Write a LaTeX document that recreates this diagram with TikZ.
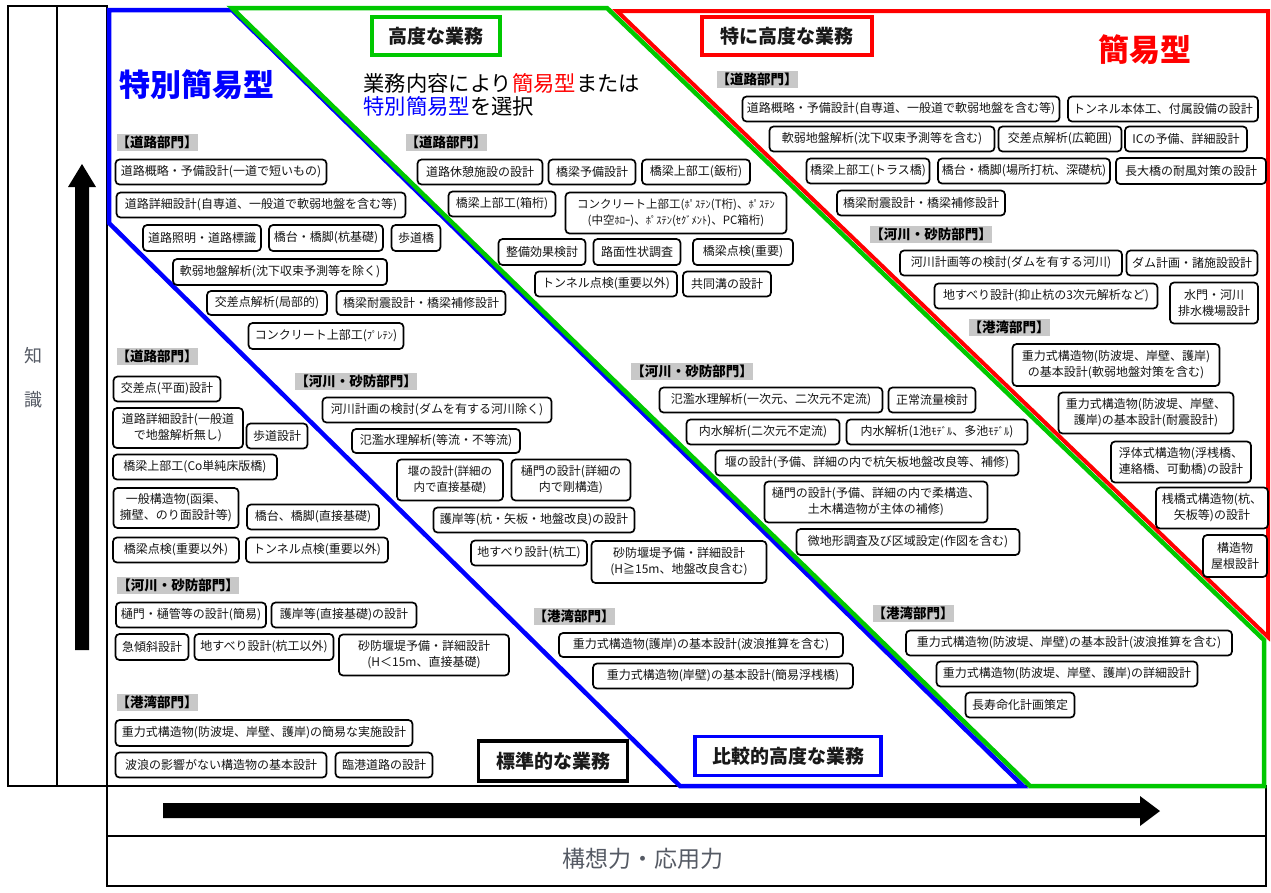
\documentclass[tikz,border=0pt]{standalone}
\usepackage{fontspec}
\setmainfont{Noto Sans CJK JP}
\definecolor{cblue}{RGB}{0,0,255}
\definecolor{cgreen}{RGB}{0,200,0}
\definecolor{cred}{RGB}{255,0,0}
\definecolor{chdr}{RGB}{200,200,200}
\definecolor{cgraytxt}{RGB}{85,90,100}
\newcommand\hkana[1]{{\fontsize{10.5}{12}\selectfont #1}}
\newcommand\tbx[7][]{\node[tbox,minimum width=#5pt,minimum height=#6pt,#1] (#2) at (#3,#4) {#7};}
\begin{document}
\begin{tikzpicture}[x=1pt,y=-1pt,
 tbox/.style={draw=black,line width=1.7pt,rounded corners=4pt,fill=white,inner sep=0pt,align=center,text=black!92,font=\fontsize{12}{16}\selectfont},
 hdr/.style={fill=chdr,inner sep=0pt,minimum height=17pt,font=\fontsize{13.5}{15}\selectfont\bfseries},
 ttl/.style={line width=3.5pt,inner sep=0pt,fill=white,text=black!90,font=\fontsize{19}{22}\selectfont\bfseries},
 frame/.style={line width=2.5pt,draw=black},
 zone/.style={line width=4.5pt,line join=miter},
 arr/.style={fill=black,draw=none}]
\useasboundingbox (0,0) rectangle (1271,892);
% frame
\draw[frame] (8,6) rectangle (107,786);
\draw[frame] (57,6) -- (57,786);
\draw[frame] (107,786) rectangle (1266,886);
\draw[frame] (107,836) -- (1266,836);
% zones
\draw[zone,cblue] (109,10) -- (232,10) -- (1023,786) -- (680,786) -- (109,223) -- cycle;
\draw[zone,cgreen] (232,8) -- (607,8) -- (1264,640) -- (1264,786) -- (1030,786) -- cycle;
\draw[zone,cred,line width=4pt] (617,11) -- (1268,11) -- (1268,637) -- cycle;
% arrows
\fill[arr] (75,650) -- (75,187) -- (68,187) -- (82,164) -- (96,187) -- (89,187) -- (89,650) -- cycle;
\fill[arr] (163,803) -- (1140,803) -- (1140,796) -- (1160,811) -- (1140,826) -- (1140,818) -- (163,818) -- cycle;
% axis labels
\node[text=cgraytxt,font=\fontsize{18}{44}\selectfont,align=center] (kn) at (33,378) {知\\識};
\node[text=cgraytxt,font=\fontsize{23}{26}\selectfont] (ko) at (643,859) {構想力・応用力};
% titles
\node[ttl,draw=cgreen,minimum width=128pt,minimum height=38pt] (tk) at (436,36) {高度な業務};
\node[ttl,draw=cred,minimum width=170pt,minimum height=38pt] (tt) at (787,36) {特に高度な業務};
\node[ttl,draw=black,minimum width=149pt,minimum height=40pt] (th) at (553,761) {標準的な業務};
\node[ttl,draw=cblue,minimum width=186pt,minimum height=39pt] (tc) at (788,756) {比較的高度な業務};
\node[text=cblue,font=\fontsize{31}{34}\selectfont\bfseries] (lt) at (197,85) {特別簡易型};
\node[text=cred,font=\fontsize{31}{34}\selectfont\bfseries] (lk) at (1145,50) {簡易型};
\node[anchor=west,align=left,font=\fontsize{21.3}{23.5}\selectfont] (ls) at (360,95) {業務内容により\textcolor{cred}{簡易型}または\\\textcolor{cblue}{特別簡易型}を選択};
% headers
\node[hdr] (h1) at (157,142) {【道路部門】};
\node[hdr] (h2) at (446,142) {【道路部門】};
\node[hdr] (h3) at (757,79) {【道路部門】};
\node[hdr] (h4) at (931,234) {【河川・砂防部門】};
\node[hdr] (h5) at (1009,327) {【港湾部門】};
\node[hdr] (h6) at (157,356) {【道路部門】};
\node[hdr] (h7) at (356,381) {【河川・砂防部門】};
\node[hdr] (h8) at (692,371) {【河川・砂防部門】};
\node[hdr] (h9) at (178,585) {【河川・砂防部門】};
\node[hdr] (h10) at (574,616) {【港湾部門】};
\node[hdr] (h11) at (913,613) {【港湾部門】};
\node[hdr] (h12) at (157,702) {【港湾部門】};
% 特別簡易型 top-left
\tbx{a1}{221}{172}{211}{25}{道路概略・予備設計(一道で短いもの)}
\tbx{a2}{261}{205}{289}{25}{道路詳細設計(自専道、一般道で軟弱地盤を含む等)}
\tbx{a3}{202}{238}{118}{26}{道路照明・道路標識}
\tbx{a4}{326}{238}{114}{26}{橋台・橋脚(杭基礎)}
\tbx{a5}{416}{238}{49}{26}{歩道橋}
\tbx{a6}{280}{272}{214}{26}{軟弱地盤解析(沈下収束予測等を除く)}
\tbx{a7}{267}{303}{120}{24}{交差点解析(局部的)}
\tbx{a8}{421}{303}{169}{24}{橋梁耐震設計・橋梁補修設計}
\tbx{a9}{326}{336}{155}{26}{コンクリート上部工(\hkana{ﾌﾟﾚﾃﾝ})}
% 標準 道路
\tbx{b1}{167}{389}{107}{25}{交差点(平面)設計}
\tbx{b2}{178}{428}{130}{40}{道路詳細設計(一般道\\で地盤解析無し)}
\tbx{b3}{277}{436}{61}{25}{歩道設計}
\tbx{b4}{195}{467}{164}{25}{橋梁上部工(Co単純床版橋)}
\tbx{b5}{176}{508}{125}{40}{一般構造物(函渠、\\擁壁、のり面設計等)}
\tbx{b6}{313}{517}{132}{25}{橋台、橋脚(直接基礎)}
\tbx{b7}{176}{550}{126}{25}{橋梁点検(重要以外)}
\tbx{b8}{317}{550}{142}{25}{トンネル点検(重要以外)}
% 標準 河川
\tbx{b9}{191}{615}{150}{25}{樋門・樋管等の設計(簡易)}
\tbx{b10}{344}{615}{145}{25}{護岸等(直接基礎)の設計}
\tbx{b11}{152}{647}{73}{26}{急傾斜設計}
\tbx{b12}{264}{647}{139}{26}{地すべり設計(杭工以外)}
\tbx{b13}{424}{655}{170}{41}{砂防堰堤予備・詳細設計\\(H＜15m、直接基礎)}
% 標準 港湾
\tbx{b14}{264}{733}{297}{26}{重力式構造物(防波堤、岸壁、護岸)の簡易な実施設計}
\tbx{b15}{221}{765}{211}{25}{波浪の影響がない構造物の基本設計}
\tbx{b16}{384}{765}{97}{25}{臨港道路の設計}
% 比較 河川
\tbx{c1}{437}{410}{229}{25}{河川計画の検討(ダムを有する河川除く)}
\tbx{c2}{436}{441}{168}{24}{氾濫水理解析(等流・不等流)}
\tbx[font=\fontsize{11.5}{16}\selectfont]{c3}{450}{480}{106}{41}{堰の設計(詳細の\\内で直接基礎)}
\tbx{c4}{571}{480}{119}{41}{樋門の設計(詳細の\\内で剛構造)}
\tbx{c5}{534}{520}{201}{25}{護岸等(杭・矢板・地盤改良)の設計}
\tbx{c6}{529}{553}{116}{25}{地すべり設計(杭工)}
\tbx{c7}{679}{562}{175}{42}{砂防堰堤予備・詳細設計\\(H≧15m、地盤改良含む)}
% 比較 港湾
\tbx{c8}{701}{645}{284}{24}{重力式構造物(護岸)の基本設計(波浪推算を含む)}
\tbx{c9}{723}{676}{260}{25}{重力式構造物(岸壁)の基本設計(簡易浮桟橋)}
% 高度 道路
\tbx{d1}{480}{172}{125}{25}{道路休憩施設の設計}
\tbx{d2}{592}{172}{87}{25}{橋梁予備設計}
\tbx{d3}{696}{172}{108}{25}{橋梁上部工(鈑桁)}
\tbx{d4}{502}{204}{107}{25}{橋梁上部工(箱桁)}
\tbx[font=\fontsize{11.5}{16}\selectfont]{d5}{676}{213}{221}{41}{コンクリート上部工(\hkana{ﾎﾟｽﾃﾝ}(T桁)、\hkana{ﾎﾟｽﾃﾝ}\\(中空\hkana{ﾎﾛｰ})、\hkana{ﾎﾟｽﾃﾝ}(\hkana{ｾｸﾞﾒﾝﾄ})、PC箱桁)}
\tbx{d6}{542}{252}{87}{26}{整備効果検討}
\tbx{d7}{637}{252}{87}{26}{路面性状調査}
\tbx{d8}{743}{252}{100}{26}{橋梁点検(重要)}
\tbx{d9}{606}{284}{142}{25}{トンネル点検(重要以外)}
\tbx{d10}{727}{284}{88}{25}{共同溝の設計}
% 高度 河川
\tbx{d11}{771}{400}{223}{25}{氾濫水理解析(一次元、二次元不定流)}
\tbx{d12}{932}{400}{87}{25}{正常流量検討}
\tbx{d13}{763}{432}{153}{25}{内水解析(二次元不定流)}
\tbx{d14}{937}{432}{181}{25}{内水解析(1池\hkana{ﾓﾃﾞﾙ}、多池\hkana{ﾓﾃﾞﾙ})}
\tbx{d15}{867}{463}{303}{25}{堰の設計(予備、詳細の内で杭矢板地盤改良等、補修)}
\tbx{d16}{876}{502}{223}{41}{樋門の設計(予備、詳細の内で柔構造、\\土木構造物が主体の補修)}
\tbx{d17}{908}{542}{223}{26}{微地形調査及び区域設定(作図を含む)}
% 高度 港湾
\tbx{d18}{1069}{643}{326}{25}{重力式構造物(防波堤、岸壁)の基本設計(波浪推算を含む)}
\tbx{d19}{1067}{674}{261}{25}{重力式構造物(防波堤、岸壁、護岸)の詳細設計}
\tbx{d20}{1020}{705}{109}{25}{長寿命化計画策定}
% 特に 道路
\tbx{e1}{901}{109}{317}{25}{道路概略・予備設計(自専道、一般道で軟弱地盤を含む等)}
\tbx{e2}{1163}{109}{190}{25}{トンネル本体工、付属設備の設計}
\tbx{e3}{882}{139}{225}{25}{軟弱地盤解析(沈下収束予測等を含む)}
\tbx{e4}{1060}{139}{123}{25}{交差点解析(広範囲)}
\tbx{e5}{1186}{139}{122}{25}{ICの予備、詳細設計}
\tbx{e6}{868}{171}{123}{25}{橋梁上部工(トラス橋)}
\tbx{e7}{1024}{171}{172}{25}{橋台・橋脚(場所打杭、深礎杭)}
\tbx{e8}{1191}{171}{150}{26}{長大橋の耐風対策の設計}
\tbx{e9}{921}{203}{168}{25}{橋梁耐震設計・橋梁補修設計}
% 特に 河川
\tbx{e10}{1011}{263}{222}{25}{河川計画等の検討(ダムを有する河川)}
\tbx{e11}{1192}{263}{131}{25}{ダム計画・諸施設設計}
\tbx{e12}{1046}{296}{223}{25}{地すべり設計(抑止杭の3次元解析など)}
\tbx{e13}{1214}{303}{88}{41}{水門・河川\\排水機場設計}
% 特に 港湾
\tbx{e14}{1116}{365}{207}{42}{重力式構造物(防波堤、岸壁、護岸)\\の基本設計(軟弱地盤対策を含む)}
\tbx{e15}{1146}{413}{175}{41}{重力式構造物(防波堤、岸壁、\\護岸)の基本設計(耐震設計)}
\tbx{e16}{1181}{462}{140}{41}{浮体式構造物(浮桟橋、\\連絡橋、可動橋)の設計}
\tbx{e17}{1212}{508}{112}{41}{桟橋式構造物(杭、\\矢板等)の設計}
\tbx{e18}{1235}{556}{64}{42}{構造物\\屋根設計}
\end{tikzpicture}
\end{document}
